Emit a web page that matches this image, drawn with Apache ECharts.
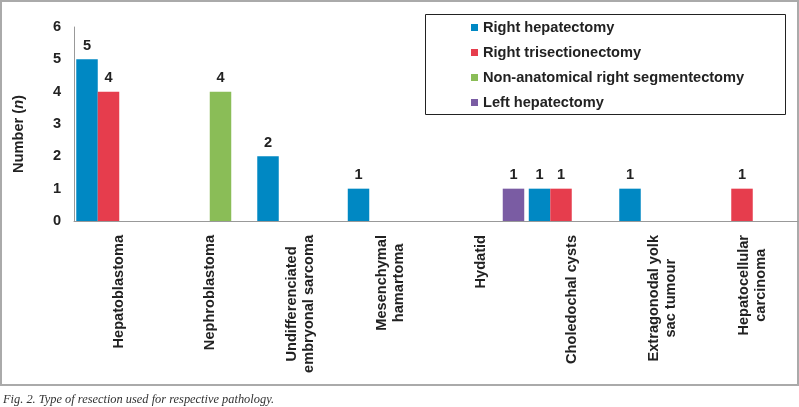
<!DOCTYPE html>
<html>
<head>
<meta charset="utf-8">
<script src="https://cdn.jsdelivr.net/npm/echarts@6/dist/echarts.min.js"></script>
<style>
html,body{margin:0;padding:0;background:#fff;}
#chart{width:799px;height:407px;}
</style>
</head>
<body>
<div id="chart"></div>
<script>
const categories = [
  "Hepatoblastoma",
  "Nephroblastoma",
  "Undifferenciated\nembryonal sarcoma",
  "Mesenchymal\nhamartoma",
  "Hydatid",
  "Choledochal cysts",
  "Extragonodal yolk\nsac tumour",
  "Hepatocellular\ncarcinoma"
];
const seriesNames = [
  "Right hepatectomy",
  "Right trisectionectomy",
  "Non-anatomical right segmentectomy",
  "Left hepatectomy"
];
const rightHepatectomy = [5, null, 2, 1, null, 1, 1, null];
const rightTrisectionectomy = [4, null, null, null, null, 1, null, 1];
const nonAnatomicalSegmentectomy = [null, 4, null, null, null, null, null, null];
const leftHepatectomy = [null, null, null, null, 1, null, null, null];
const yTicks = [0, 1, 2, 3, 4, 5, 6];
const seriesColors = ["#0088C3", "#E63D4D", "#8ABD57", "#7A5CA3"];

const FONT = "'Liberation Sans', Arial, sans-serif";
const FS = 14.6;
const allData = [rightHepatectomy, rightTrisectionectomy, nonAnatomicalSegmentectomy, leftHepatectomy];

const chart = echarts.init(document.getElementById('chart'));
chart.setOption({
  animation: false,
  textStyle: { fontFamily: FONT },
  grid: { left: 74, right: 1, top: 27, bottom: 186, containLabel: false },
  legend: {
    orient: 'vertical',
    left: 471,
    top: 20,
    padding: 0,
    itemWidth: 7,
    itemHeight: 7,
    itemGap: 10,
    icon: 'rect',
    data: seriesNames,
    textStyle: { fontFamily: FONT, fontSize: FS, fontWeight: 'bold', color: '#222', lineHeight: 14 }
  },
  xAxis: {
    type: 'category',
    data: categories,
    axisLine: { lineStyle: { color: '#999', width: 1 } },
    axisTick: { show: false },
    axisLabel: {
      interval: 0,
      rotate: 90,
      margin: 14,
      fontFamily: FONT,
      fontSize: FS,
      fontWeight: 'bold',
      color: '#222',
      lineHeight: 17,
      formatter: v => v.split('\n').map(s => '{c|' + s + '}').join('\n'),
      rich: {
        c: { align: 'center', fontFamily: FONT, fontSize: FS, fontWeight: 'bold', color: '#222', lineHeight: 17 }
      }
    }
  },
  yAxis: {
    type: 'value',
    min: yTicks[0],
    max: yTicks[yTicks.length - 1],
    interval: 1,
    name: '{b|Number (}{i|n}{b|)}',
    nameLocation: 'middle',
    nameRotate: 90,
    nameGap: 48,
    nameTextStyle: {
      padding: [0, 20, 0, 0],
      rich: {
        b: { fontFamily: FONT, fontSize: FS, fontWeight: 'bold', color: '#222' },
        i: { fontFamily: FONT, fontSize: FS, fontWeight: 'bold', fontStyle: 'italic', color: '#222' }
      }
    },
    axisLine: { show: true, lineStyle: { color: '#999', width: 1 } },
    axisTick: { show: false },
    splitLine: { show: false },
    axisLabel: { margin: 13, fontFamily: FONT, fontSize: FS, fontWeight: 'bold', color: '#222' }
  },
  series: seriesNames.map((name, i) => ({
    name: name,
    type: 'bar',
    data: allData[i],
    barGap: '0%',
    barCategoryGap: '5%',
    itemStyle: { color: seriesColors[i] },
    label: {
      show: true,
      position: 'top',
      distance: 6,
      fontFamily: FONT,
      fontSize: FS,
      fontWeight: 'bold',
      color: '#222'
    }
  })),
  graphic: [
    {
      type: 'rect',
      shape: { x: 1, y: 1, width: 797, height: 384 },
      style: { fill: 'none', stroke: '#aaa', lineWidth: 2 },
      silent: true
    },
    {
      type: 'rect',
      shape: { x: 425.5, y: 14.5, width: 360, height: 100 },
      style: { fill: 'none', stroke: '#222', lineWidth: 1 },
      silent: true
    },
    {
      type: 'text',
      left: 3,
      top: 394,
      style: {
        text: 'Fig. 2. Type of resection used for respective pathology.',
        font: "italic 12.4px 'Liberation Serif', 'Times New Roman', serif",
        fill: '#333'
      },
      silent: true
    }
  ]
});
</script>
</body>
</html>
